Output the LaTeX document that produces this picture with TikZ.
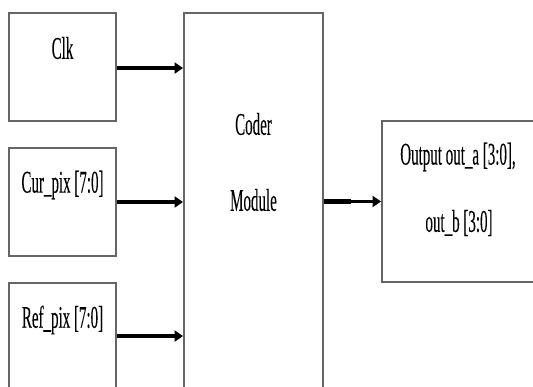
\documentclass[tikz,border=0pt]{standalone}
\usepackage{fontspec}
\setmainfont{Liberation Serif}
\newfontfamily\lblfont{Liberation Serif}[FakeBold=0.25]
\usetikzlibrary{arrows.meta,calc}
\tikzset{
  blk/.style={draw=black!60, line width=1.9pt, fill=white, inner sep=0pt},
  lbl/.style={font=\fontsize{15}{18}\lblfont, inner sep=0pt},
  arr/.style={draw=black, line width=3.1pt, -{Triangle[length=8.5pt,width=11pt]}},
  stub/.style={draw=black, line width=4.4pt}
}
\newcommand{\tall}[1]{\scalebox{1}[2.1]{#1}}
\begin{document}
\begin{tikzpicture}[x=1pt,y=-1pt]
  \useasboundingbox (0,0) rectangle (533,387);
  \clip (0,0) rectangle (533,387);
  \fill[white] (0,0) rectangle (533,387);

  % input blocks
  \node[blk, minimum width=107pt, minimum height=108pt] (clk) at (62.5,67) {};
  \node[blk, minimum width=107pt, minimum height=108pt] (cur) at (62.5,202) {};
  \node[blk, minimum width=107pt, minimum height=130pt] (ref) at (62.5,348) {};
  % coder
  \node[blk, minimum width=139pt, minimum height=420pt] (coder) at (253.5,223) {};
  % output block
  \node[blk, minimum width=170pt, minimum height=161pt] (out) at (467,201.5) {};

  % labels
  \node[lbl] (clkt) at (62.5,48) {\tall{Clk}};
  \node[lbl] (curt) at (62.5,185) {\tall{Cur\_pix [7:0]}};
  \node[lbl] (reft) at (62.5,320) {\tall{Ref\_pix [7:0]}};
  \node[lbl] (codt) at (253.5,124) {\tall{Coder}};
  \node[lbl] (modt) at (253.5,200) {\tall{Module}};
  \node[lbl] (outa) at (458,157) {\tall{Output out\_a [3:0],}};
  \node[lbl] (outb) at (459,223) {\tall{out\_b [3:0]}};

  % connectors
  \coordinate (c1) at ($(clk.north east)+(0,56)$);
  \coordinate (r1) at ($(ref.north east)+(0,54)$);
  \draw[arr] (c1) -- (c1 -| coder.west);
  \draw[arr] (cur.east) -- (cur.east -| coder.west);
  \draw[stub] (cur.east) -- ++(31,0);
  \draw[arr] (r1) -- (r1 -| coder.west);
  \coordinate (o1) at (coder.east |- out.west);
  \draw[arr] (o1) -- (out.west);
  \draw[stub] (o1) -- ++(27,0);
\end{tikzpicture}
\end{document}
